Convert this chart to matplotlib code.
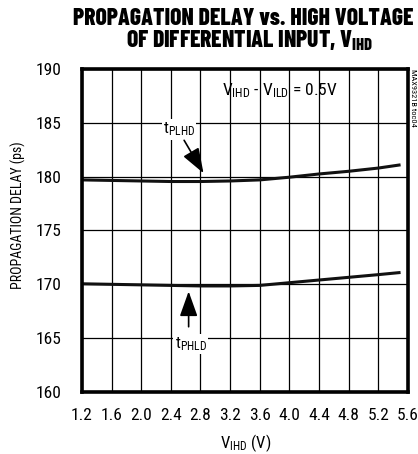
import matplotlib

matplotlib.use("Agg")
import matplotlib.pyplot as plt

BODY = ["Roboto Condensed", "DejaVu Sans"]
HEAD = ["Barlow Condensed", "Roboto Condensed", "DejaVu Sans"]
plt.rcParams["font.family"] = BODY

# data
v_ihd = [1.2, 1.6, 2.0, 2.4, 2.8, 3.2, 3.6, 4.0, 4.4, 4.8, 5.2, 5.5]
t_plhd = [179.7, 179.65, 179.6, 179.55, 179.55, 179.6, 179.7, 179.95, 180.25, 180.5, 180.8, 181.1]
t_phld = [170.05, 170.0, 169.95, 169.9, 169.85, 169.85, 169.9, 170.15, 170.4, 170.65, 170.9, 171.1]
x_ticks = [1.2, 1.6, 2.0, 2.4, 2.8, 3.2, 3.6, 4.0, 4.4, 4.8, 5.2, 5.6]
y_ticks = [160, 165, 170, 175, 180, 185, 190]

fig = plt.figure(figsize=(4.18, 4.54), dpi=100)
ax = fig.add_axes([0.196, 0.1366, 0.78, 0.7114])

ax.plot(v_ihd, t_plhd, color="#111111", lw=2.2, solid_capstyle="butt")
ax.plot(v_ihd, t_phld, color="#111111", lw=2.2, solid_capstyle="butt")

ax.set_xlim(1.2, 5.6)
ax.set_ylim(160, 190)
ax.set_xticks(x_ticks)
ax.set_xticklabels([f"{t:.1f}" for t in x_ticks])
ax.set_yticks(y_ticks)
ax.grid(True, color="black", lw=0.9)
ax.set_axisbelow(True)
for s in ax.spines.values():
    s.set_linewidth(2.6)
ax.tick_params(length=0, labelsize=12.5)
ax.tick_params(axis="y", pad=15)
ax.tick_params(axis="x", pad=11.5)

fig.text(0.045, 0.526, "PROPAGATION DELAY (ps)", rotation=90, ha="center", va="center",
         fontsize=10)
fig.text(0.587, 0.0132, r"$\mathregular{V_{IHD}}$ (V)", ha="center", va="baseline", fontsize=12)

fig.text(0.582, 0.945, "PROPAGATION DELAY vs. HIGH VOLTAGE", ha="center", va="baseline",
         fontsize=17, fontweight=800, family=HEAD)
fig.text(0.596, 0.897, r"OF DIFFERENTIAL INPUT, $\mathregular{V_{IHD}}$", ha="center",
         va="baseline", fontsize=17, fontweight=800, family=HEAD)

ax.text(3.09, 187.58, r"$\mathregular{V_{IHD}}$ - $\mathregular{V_{ILD}}$ = 0.5V",
        fontsize=12.5, ha="left", va="baseline")

# curve labels with arrows
arrow = dict(arrowstyle="-|>,head_length=0.7,head_width=0.25", color="black", lw=1.2,
             mutation_scale=22)
ax.text(2.51, 184.0, r"$\mathregular{t_{PLHD}}$", fontsize=12, ha="center", va="baseline",
        bbox=dict(facecolor="white", edgecolor="none", pad=1))
ax.annotate("", xy=(2.86, 180.1), xytext=(2.56, 183.6), arrowprops=arrow)
ax.text(2.67, 164.1, r"$\mathregular{t_{PHLD}}$", fontsize=12, ha="center", va="baseline",
        bbox=dict(facecolor="white", edgecolor="none", pad=1))
ax.annotate("", xy=(2.64, 169.6), xytext=(2.64, 165.8), arrowprops=arrow)

fig.text(0.988, 0.848, "MAX9321B toc04", rotation=270, ha="center", va="top", fontsize=6)

fig.savefig("out.png", dpi=100, facecolor="white")
